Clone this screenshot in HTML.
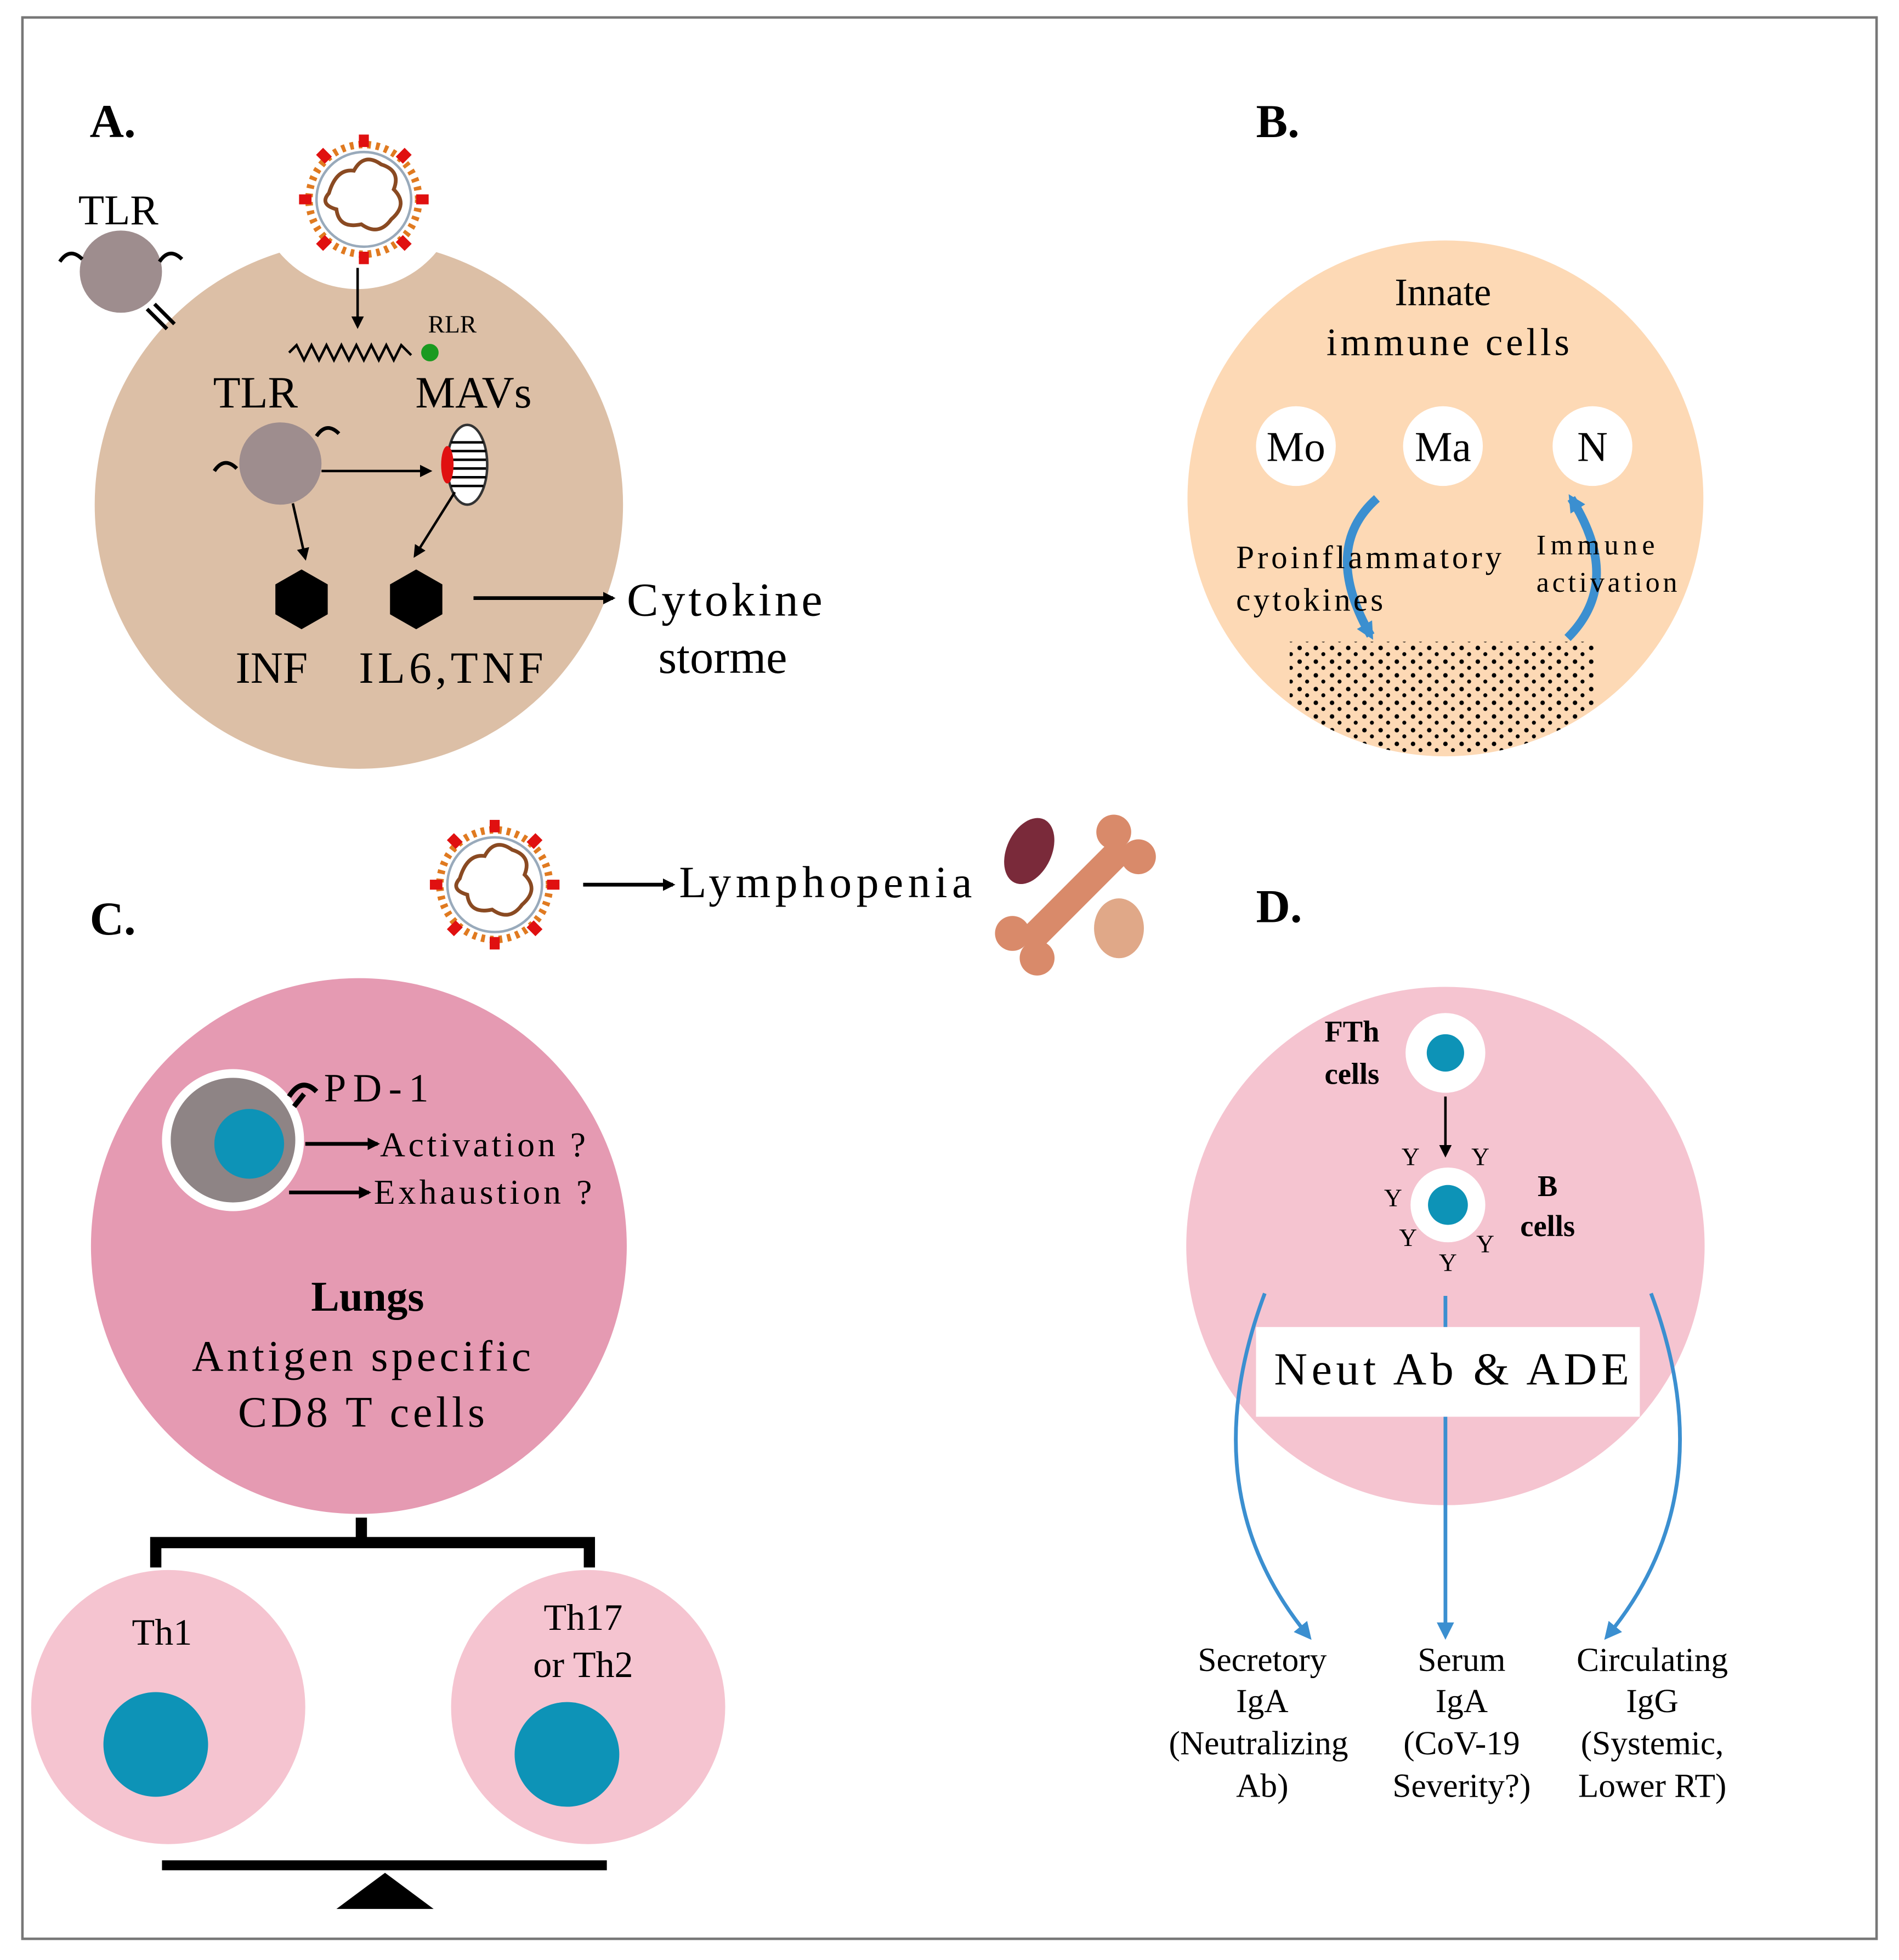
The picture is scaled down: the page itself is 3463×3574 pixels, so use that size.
<!DOCTYPE html>
<html><head><meta charset="utf-8"><style>html,body{margin:0;padding:0;background:#fff}svg{display:block}</style></head>
<body>
<svg width="3463" height="3574" viewBox="0 0 1524 1573" preserveAspectRatio="none" xmlns="http://www.w3.org/2000/svg" font-family="Liberation Serif, serif">
<defs>
<marker id="ar" markerWidth="10" markerHeight="10" refX="8" refY="5" orient="auto" markerUnits="userSpaceOnUse"><path d="M0,0 L10,5 L0,10 z" fill="#000"/></marker>
<marker id="ab" markerWidth="14" markerHeight="14" refX="10" refY="7" orient="auto" markerUnits="userSpaceOnUse"><path d="M0,0 L14,7 L0,14 z" fill="#3b8fd0"/></marker>
<pattern id="dots" width="13" height="11" patternUnits="userSpaceOnUse"><circle cx="3" cy="3" r="1.8" fill="#000"/><circle cx="9" cy="8" r="1.6" fill="#000"/></pattern>
<clipPath id="cb"><circle cx="1160" cy="400" r="207"/></clipPath>
<g id="virus">
<circle r="44" fill="none" stroke="#e07a20" stroke-width="6" stroke-dasharray="3 4"/>
<circle r="38" fill="#fff" stroke="#9ab" stroke-width="2"/>
<path d="M-28,-5 q6,-20 20,-18 q8,-15 22,-5 q16,5 10,20 q12,12 -2,24 q-10,14 -24,4 q-18,4 -20,-12 q-14,-4 -6,-13z" fill="none" stroke="#8a4a22" stroke-width="3"/>
<g fill="#e01010"><rect x="-4" y="-52" width="8" height="10"/><rect x="-4" y="42" width="8" height="10"/><rect x="42" y="-4" width="10" height="8"/><rect x="-52" y="-4" width="10" height="8"/><rect x="28" y="-40" width="8" height="10" transform="rotate(45 32 -35)"/><rect x="-36" y="30" width="8" height="10" transform="rotate(45 -32 35)"/><rect x="28" y="30" width="8" height="10" transform="rotate(-45 32 35)"/><rect x="-36" y="-40" width="8" height="10" transform="rotate(-45 -32 -35)"/></g>
</g>
</defs>
<rect x="18" y="14" width="1488" height="1542" fill="#fff" stroke="#777" stroke-width="2"/>
<g font-weight="bold" font-size="38"><text x="72" y="110">A.</text><text x="1008" y="110">B.</text><text x="72" y="750">C.</text><text x="1008" y="740">D.</text></g>

<!-- Panel A -->
<circle cx="288" cy="405" r="212" fill="#dcbfa6"/>
<circle cx="287" cy="150" r="82" fill="#fff"/>
<use href="#virus" x="292" y="160"/>
<text x="95" y="180" font-size="34" text-anchor="middle">TLR</text>
<circle cx="97" cy="218" r="33" fill="#9e8d8e"/>
<path d="M48,210 q8,-12 18,-2 M128,210 q8,-12 18,-2 M118,248 l16,16 M124,244 l16,16" stroke="#000" stroke-width="3" fill="none"/>
<line x1="287" y1="215" x2="287" y2="262" stroke="#000" stroke-width="2" marker-end="url(#ar)"/>
<polyline points="232,283 238,277 244,289 250,277 256,289 262,277 268,289 274,277 280,289 286,277 292,289 298,277 304,289 310,277 316,289 322,277 330,285" fill="none" stroke="#000" stroke-width="2"/>
<circle cx="345" cy="283" r="7" fill="#1a9a20"/>
<text x="363" y="267" font-size="20" text-anchor="middle">RLR</text>
<text x="205" y="327" font-size="36" text-anchor="middle">TLR</text>
<text x="380" y="327" font-size="36" text-anchor="middle">MAVs</text>
<circle cx="225" cy="372" r="33" fill="#9e8d8e"/>
<path d="M172,378 q8,-12 18,-2 M254,350 q8,-12 18,-2" stroke="#000" stroke-width="3" fill="none"/>
<line x1="258" y1="378" x2="345" y2="378" stroke="#000" stroke-width="2" marker-end="url(#ar)"/>
<ellipse cx="375" cy="373" rx="16" ry="32" fill="#fff" stroke="#333" stroke-width="2"/>
<path d="M362,355h26M360,362h30M360,369h30M360,376h30M360,383h30M362,390h26" stroke="#000" stroke-width="2"/>
<ellipse cx="359" cy="373" rx="5" ry="15" fill="#e01010"/>
<line x1="235" y1="404" x2="245" y2="448" stroke="#000" stroke-width="2" marker-end="url(#ar)"/>
<line x1="365" y1="395" x2="333" y2="446" stroke="#000" stroke-width="2" marker-end="url(#ar)"/>
<polygon points="242,457 263,469 263,493 242,505 221,493 221,469"/>
<polygon points="334,457 355,469 355,493 334,505 313,493 313,469"/>
<text x="218" y="548" font-size="36" text-anchor="middle">INF</text>
<text x="362" y="548" font-size="36" text-anchor="middle" textLength="148">IL6,TNF</text>
<line x1="380" y1="480" x2="492" y2="480" stroke="#000" stroke-width="3" marker-end="url(#ar)"/>
<text x="503" y="494" font-size="38" textLength="157">Cytokine</text>
<text x="580" y="540" font-size="38" text-anchor="middle">storme</text>

<!-- Panel B -->
<circle cx="1160" cy="400" r="207" fill="#fdd9b5"/>
<text x="1158" y="245" font-size="31" text-anchor="middle">Innate</text>
<text x="1162" y="285" font-size="31" text-anchor="middle" textLength="195">immune cells</text>
<circle cx="1040" cy="358" r="32" fill="#fff"/><text x="1040" y="370" font-size="34" text-anchor="middle">Mo</text>
<circle cx="1158" cy="358" r="32" fill="#fff"/><text x="1158" y="370" font-size="34" text-anchor="middle">Ma</text>
<circle cx="1278" cy="358" r="32" fill="#fff"/><text x="1278" y="370" font-size="34" text-anchor="middle">N</text>
<rect x="1035" y="515" width="245" height="90" fill="url(#dots)" clip-path="url(#cb)"/>
<path d="M1105,400 q-45,40 -5,110" fill="none" stroke="#3b8fd0" stroke-width="7" marker-end="url(#ab)"/>
<path d="M1258,512 q45,-45 3,-112" fill="none" stroke="#3b8fd0" stroke-width="7" marker-end="url(#ab)"/>
<text x="992" y="456" font-size="26" textLength="213">Proinflammatory</text>
<text x="992" y="490" font-size="26" textLength="118">cytokines</text>
<text x="1233" y="445" font-size="23" textLength="95">Immune</text>
<text x="1233" y="475" font-size="23" textLength="113">activation</text>

<!-- middle -->
<use href="#virus" x="397" y="710"/>
<line x1="468" y1="710" x2="540" y2="710" stroke="#000" stroke-width="3" marker-end="url(#ar)"/>
<text x="545" y="720" font-size="36" textLength="235">Lymphopenia</text>
<g transform="rotate(-45 862 718)"><rect x="805" y="708" width="115" height="22" rx="10" fill="#d98a6a"/><circle cx="805" cy="705" r="14" fill="#d98a6a"/><circle cx="805" cy="733" r="14" fill="#d98a6a"/><circle cx="920" cy="705" r="14" fill="#d98a6a"/><circle cx="920" cy="733" r="14" fill="#d98a6a"/></g>
<ellipse cx="826" cy="683" rx="18" ry="28" fill="#7a2a3a" transform="rotate(25 826 683)"/>
<ellipse cx="898" cy="745" rx="20" ry="24" fill="#e0a888"/>

<!-- Panel C -->
<circle cx="288" cy="1000" r="215" fill="#e59ab2"/>
<circle cx="187" cy="915" r="57" fill="#fff"/>
<circle cx="187" cy="915" r="50" fill="#8e8485"/>
<circle cx="200" cy="918" r="28" fill="#0d93b7"/>
<path d="M232,880 q10,-16 22,-4 M244,878 l-8,10" stroke="#000" stroke-width="4" fill="none"/>
<text x="260" y="884" font-size="32" textLength="84">PD-1</text>
<line x1="245" y1="918" x2="303" y2="918" stroke="#000" stroke-width="3" marker-end="url(#ar)"/>
<text x="305" y="928" font-size="28" textLength="165">Activation ?</text>
<line x1="232" y1="957" x2="296" y2="957" stroke="#000" stroke-width="3" marker-end="url(#ar)"/>
<text x="300" y="966" font-size="28" textLength="175">Exhaustion ?</text>
<text x="295" y="1052" font-size="34" font-weight="bold" text-anchor="middle">Lungs</text>
<text x="290" y="1100" font-size="35" text-anchor="middle" textLength="272">Antigen specific</text>
<text x="290" y="1145" font-size="35" text-anchor="middle" textLength="198">CD8 T cells</text>
<path d="M290,1218V1238M125,1258V1238H473V1258" stroke="#000" stroke-width="9" fill="none"/>
<circle cx="135" cy="1370" r="110" fill="#f5c4d0"/>
<circle cx="125" cy="1400" r="42" fill="#0d93b7"/>
<text x="130" y="1320" font-size="30" text-anchor="middle">Th1</text>
<circle cx="472" cy="1370" r="110" fill="#f5c4d0"/>
<circle cx="455" cy="1408" r="42" fill="#0d93b7"/>
<text x="468" y="1308" font-size="30" text-anchor="middle">Th17</text>
<text x="468" y="1346" font-size="30" text-anchor="middle">or Th2</text>
<line x1="130" y1="1497" x2="487" y2="1497" stroke="#000" stroke-width="8"/>
<polygon points="270,1532 348,1532 309,1503"/>

<!-- Panel D -->
<circle cx="1160" cy="1000" r="208" fill="#f5c4d0"/>
<text x="1085" y="836" font-size="24" font-weight="bold" text-anchor="middle">FTh</text>
<text x="1085" y="870" font-size="24" font-weight="bold" text-anchor="middle">cells</text>
<circle cx="1160" cy="845" r="32" fill="#fff"/><circle cx="1160" cy="845" r="15" fill="#0d93b7"/>
<line x1="1160" y1="880" x2="1160" y2="927" stroke="#000" stroke-width="2" marker-end="url(#ar)"/>
<circle cx="1162" cy="967" r="30" fill="#fff"/><circle cx="1162" cy="967" r="16" fill="#0d93b7"/>
<g font-size="20" text-anchor="middle"><text x="1132" y="935">Y</text><text x="1188" y="935">Y</text><text x="1118" y="968">Y</text><text x="1130" y="1000">Y</text><text x="1162" y="1020">Y</text><text x="1192" y="1005">Y</text></g>
<text x="1242" y="960" font-size="24" font-weight="bold" text-anchor="middle">B</text>
<text x="1242" y="992" font-size="24" font-weight="bold" text-anchor="middle">cells</text>
<line x1="1160" y1="1040" x2="1160" y2="1312" stroke="#3b8fd0" stroke-width="3" marker-end="url(#ab)"/>
<path d="M1015,1038 q-60,160 35,275" fill="none" stroke="#3b8fd0" stroke-width="3" marker-end="url(#ab)"/>
<path d="M1325,1038 q60,160 -35,275" fill="none" stroke="#3b8fd0" stroke-width="3" marker-end="url(#ab)"/>
<rect x="1008" y="1065" width="308" height="72" fill="#fff"/>
<text x="1165" y="1111" font-size="37" text-anchor="middle" textLength="285">Neut Ab &amp; ADE</text>
<g font-size="27" text-anchor="middle">
<text x="1013" y="1341">Secretory</text><text x="1013" y="1374">IgA</text><text x="1010" y="1408">(Neutralizing</text><text x="1013" y="1442">Ab)</text>
<text x="1173" y="1341">Serum</text><text x="1173" y="1374">IgA</text><text x="1173" y="1408">(CoV-19</text><text x="1173" y="1442">Severity?)</text>
<text x="1326" y="1341">Circulating</text><text x="1326" y="1374">IgG</text><text x="1326" y="1408">(Systemic,</text><text x="1326" y="1442">Lower RT)</text>
</g>
</svg>
</body></html>
